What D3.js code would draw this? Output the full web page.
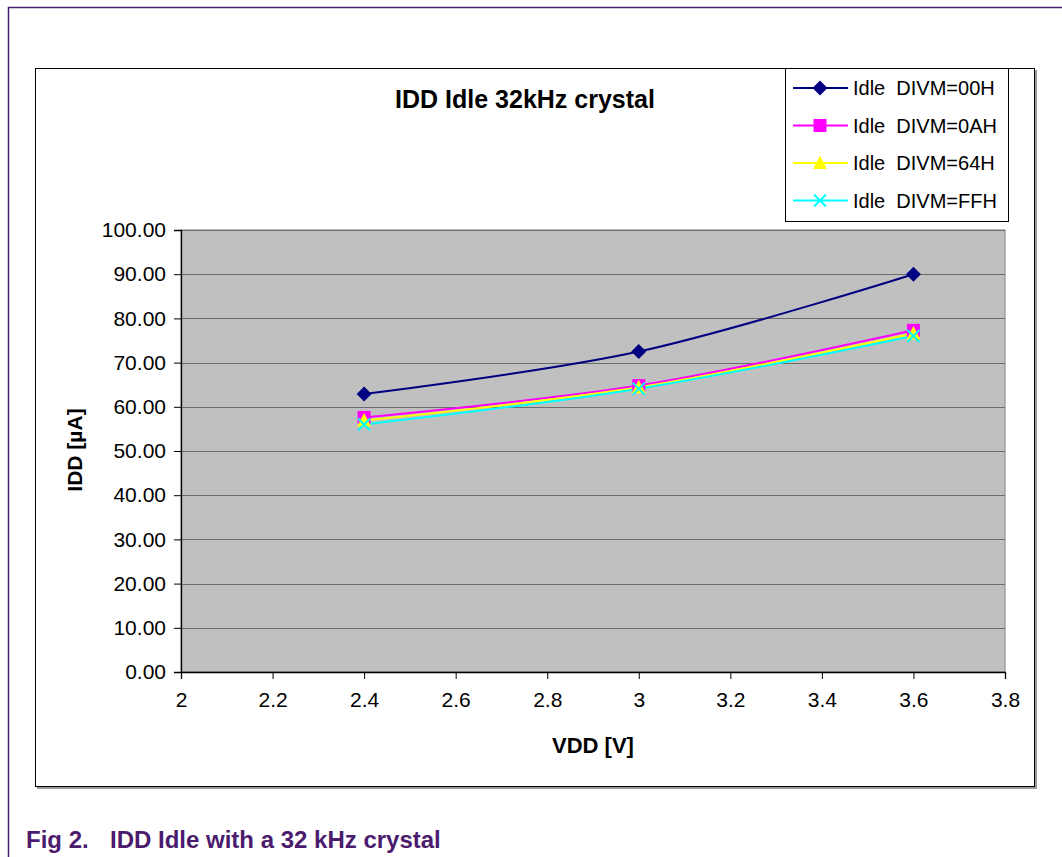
<!DOCTYPE html>
<html>
<head>
<meta charset="utf-8">
<script src="https://cdn.jsdelivr.net/npm/d3@7"></script>
<style>
  body { margin: 0; background: #fff; }
  svg { display: block; font-family: "Liberation Sans", Arial, sans-serif; }
</style>
</head>
<body>
<div id="container"></div>
<script>
// data
const vdd = [2.4, 3.0, 3.6];
const divm00 = [62.9, 72.5, 90.0];
const divm0A = [57.6, 64.8, 77.3];
const divm64 = [56.9, 64.4, 76.6];
const divmFF = [56.0, 64.1, 76.0];
const seriesNames = ["Idle  DIVM=00H", "Idle  DIVM=0AH", "Idle  DIVM=64H", "Idle  DIVM=FFH"];
const seriesColors = ["#000080", "#ff00ff", "#ffff00", "#00ffff"];
const seriesMarkers = ["diamond", "square", "triangle", "x"];
const xTicks = [2, 2.2, 2.4, 2.6, 2.8, 3, 3.2, 3.4, 3.6, 3.8];
const yTicks = [0, 10, 20, 30, 40, 50, 60, 70, 80, 90, 100];

const width = 1062;
const height = 857;

const series = [divm00, divm0A, divm64, divmFF].map((vals, i) => ({
  name: seriesNames[i],
  color: seriesColors[i],
  marker: seriesMarkers[i],
  values: vals.map((v, j) => ({x: vdd[j], y: v}))
}));

const svg = d3.select("#container")
  .append("svg")
  .attr("width", width)
  .attr("height", height);

// purple frame of the document figure
svg.append("path")
  .attr("d", "M8.5,857 V7.5 H1062")
  .attr("fill", "none")
  .attr("stroke", "#4b1c6e")
  .attr("stroke-width", 1.5);

// chart area box with a little shadow
svg.append("rect")
  .attr("x", 37).attr("y", 70).attr("width", 1000).attr("height", 719)
  .attr("fill", "#999");
svg.append("rect")
  .attr("x", 35.5).attr("y", 68.5).attr("width", 999).attr("height", 718)
  .attr("fill", "#fff").attr("stroke", "#000");

// scales
const x = d3.scaleLinear().domain([2, 3.8]).range([181, 1005]);
const y = d3.scaleLinear().domain([0, 100]).range([672, 230]);

// plot area
svg.append("rect")
  .attr("x", x(2)).attr("y", y(100))
  .attr("width", x(3.8) - x(2)).attr("height", y(0) - y(100))
  .attr("fill", "#c0c0c0")
  .attr("stroke", "#808080");

// gridlines
svg.append("g")
  .selectAll("line")
  .data(yTicks.filter(d => d > 0))
  .join("line")
    .attr("x1", x(2)).attr("x2", x(3.8))
    .attr("y1", d => Math.round(y(d)) + 0.5)
    .attr("y2", d => Math.round(y(d)) + 0.5)
    .attr("stroke", "#6b6b6b")
    .attr("stroke-width", 1.2);

// axes
const yAxis = svg.append("g")
  .attr("transform", `translate(${x(2)},0)`)
  .call(d3.axisLeft(y).tickValues(yTicks).tickFormat(d3.format(".2f")).tickSize(7).tickPadding(8));
const xAxis = svg.append("g")
  .attr("transform", `translate(0,${y(0)})`)
  .call(d3.axisBottom(x).tickValues(xTicks).tickFormat(d => d).tickSize(7).tickPadding(13));

[yAxis, xAxis].forEach(a => {
  a.select(".domain").attr("stroke", "#000").attr("stroke-width", 1.3);
  a.selectAll(".tick line").attr("stroke", "#000");
  a.selectAll("text").attr("font-size", 21).attr("fill", "#000")
    .attr("font-family", "'Liberation Sans', Arial, sans-serif");
});

// lines (Excel style smoothing)
const line = d3.line()
  .x(d => x(d.x)).y(d => y(d.y))
  .curve(d3.curveCatmullRom.alpha(0));

const markerPath = {
  diamond: "M0,-7.5L7.5,0L0,7.5L-7.5,0Z",
  square: "M-6.5,-6.5H6.5V6.5H-6.5Z",
  triangle: "M0,-7.5L7,6L-7,6Z",
  x: "M-6,-6L6,6M6,-6L-6,6"
};

function drawMarker(g, s) {
  const p = g.append("path").attr("d", markerPath[s.marker]);
  if (s.marker === "x") {
    p.attr("fill", "none").attr("stroke", s.color).attr("stroke-width", 2);
  } else {
    p.attr("fill", s.color);
  }
  return p;
}

series.forEach(s => {
  svg.append("path")
    .datum(s.values)
    .attr("d", line)
    .attr("fill", "none")
    .attr("stroke", s.color)
    .attr("stroke-width", 2);
});

series.forEach(s => {
  s.values.forEach(d => {
    const g = svg.append("g").attr("transform", `translate(${x(d.x)},${y(d.y)})`);
    drawMarker(g, s);
  });
});

// titles
svg.append("text")
  .attr("x", 525).attr("y", 108)
  .attr("text-anchor", "middle")
  .attr("font-size", 25).attr("font-weight", "bold")
  .text("IDD Idle 32kHz crystal");

svg.append("text")
  .attr("x", 593).attr("y", 753)
  .attr("text-anchor", "middle")
  .attr("font-size", 22).attr("font-weight", "bold")
  .text("VDD [V]");

svg.append("text")
  .attr("transform", "translate(82,450) rotate(-90)")
  .attr("text-anchor", "middle")
  .attr("font-size", 21).attr("font-weight", "bold")
  .text("IDD [µA]");

// legend
const legend = svg.append("g");
legend.append("rect")
  .attr("x", 785.5).attr("y", 68.5).attr("width", 223).attr("height", 153)
  .attr("fill", "#fff").attr("stroke", "#000");

series.forEach((s, i) => {
  const ly = 88 + i * 37.5;
  legend.append("line")
    .attr("x1", 793).attr("x2", 848)
    .attr("y1", ly).attr("y2", ly)
    .attr("stroke", s.color).attr("stroke-width", 2);
  drawMarker(legend.append("g").attr("transform", `translate(820,${ly})`), s);
  legend.append("text")
    .attr("x", 853).attr("y", ly + 7)
    .attr("font-size", 20)
    .attr("xml:space", "preserve")
    .style("white-space", "pre")
    .text(s.name);
});

// figure caption
const cap = svg.append("text")
  .attr("x", 26).attr("y", 848)
  .attr("font-size", 24).attr("font-weight", "bold")
  .attr("fill", "#4b1c6e")
  .attr("font-family", "Arial, 'Liberation Sans', sans-serif");
cap.append("tspan").text("Fig 2.");
cap.append("tspan").attr("x", 110).text("IDD Idle with a 32 kHz crystal");
</script>
</body>
</html>
